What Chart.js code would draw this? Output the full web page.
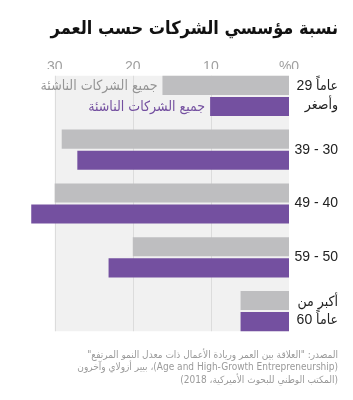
<!DOCTYPE html>
<html>
<head>
<meta charset="utf-8">
<script src="https://cdn.jsdelivr.net/npm/chart.js@4"></script>
<style>
html,body{margin:0;padding:0;background:#fff;}
#wrap{width:353px;height:400px;}
</style>
</head>
<body>
<div id="wrap"><canvas id="c" width="353" height="400"></canvas></div>
<script>
const LRM = "\u200E";
const categories = [[LRM + "29 عاماً", "وأصغر"], "39 - 30", "49 - 40", "59 - 50", ["أكبر من", LRM + "60 عاماً"]];
const allStartups = [16.2, 29.1, 30.0, 20.0, 6.2];
const highGrowth = [10.1, 27.1, 33.0, 23.1, 6.2];
const xTicks = [0, 10, 20, 30];
const seriesNames = ["جميع الشركات الناشئة", "جميع الشركات الناشئة"];
const titleText = "نسبة مؤسسي الشركات حسب العمر";
const sourceLines = [
  "المصدر: \"العلاقة بين العمر وريادة الأعمال ذات معدل النمو المرتفع\"",
  "(Age and High-Growth Entrepreneurship)، بيير أزولاي وآخرون",
  "(المكتب الوطني للبحوث الأميركية، 2018)"
];

const GRAY = '#bebec0';
const PURPLE = '#7450a0';
const FONT = "'Liberation Sans', 'DejaVu Sans Condensed', 'DejaVu Sans', sans-serif";
const CFONT = "'DejaVu Sans Condensed', 'DejaVu Sans', sans-serif";

const bgPlugin = {
  id: 'bgGrid',
  beforeDraw(chart) { chart.ctx.direction = 'ltr'; },
  beforeDatasetsDraw(chart) {
    const ctx = chart.ctx;
    const xs = chart.scales.x;
    const m0 = chart.getDatasetMeta(0).data;
    const m1 = chart.getDatasetMeta(1).data;
    const top = m0[0].y - m0[0].height / 2;
    const last = m1[m1.length - 1];
    const bottom = last.y + last.height / 2;
    const xL = xs.getPixelForValue(30), xR = xs.getPixelForValue(0);
    ctx.save();
    ctx.fillStyle = '#f1f1f1';
    ctx.fillRect(xL, top, xR - xL, bottom - top);
    ctx.strokeStyle = '#dcdcdc';
    ctx.lineWidth = 1;
    [10, 20, 30].forEach(v => {
      const px = Math.round(xs.getPixelForValue(v)) + 0.5;
      ctx.beginPath(); ctx.moveTo(px, top); ctx.lineTo(px, bottom); ctx.stroke();
    });
    ctx.restore();
  },
  afterDatasetsDraw(chart) {
    const ctx = chart.ctx;
    ctx.save();
    ctx.font = "14px " + CFONT;
    ctx.textAlign = 'right';
    ctx.textBaseline = 'middle';
    const cols = ['#959595', PURPLE];
    [0, 1].forEach(i => {
      const b = chart.getDatasetMeta(i).data[0];
      ctx.fillStyle = cols[i];
      ctx.fillText(seriesNames[i], b.x - 5, b.y + 1);
    });
    ctx.restore();
  },
  afterDraw(chart) {
    const ctx = chart.ctx;
    ctx.save();
    ctx.direction = 'rtl';
    ctx.font = "10px " + CFONT;
    ctx.fillStyle = '#9a9a9a';
    ctx.textAlign = 'right';
    ctx.textBaseline = 'middle';
    sourceLines.forEach((l, i) => ctx.fillText(l, 338, 355 + i * 12.5));
    ctx.restore();
    ctx.direction = 'ltr';
  }
};

new Chart(document.getElementById('c'), {
  type: 'bar',
  data: {
    labels: categories,
    datasets: [
      { label: seriesNames[0], data: allStartups, backgroundColor: GRAY },
      { label: seriesNames[1], data: highGrowth, backgroundColor: PURPLE }
    ]
  },
  options: {
    indexAxis: 'y',
    responsive: false,
    animation: false,
    categoryPercentage: 0.785,
    barPercentage: 0.905,
    layout: { padding: { left: 0, right: 15, top: 0, bottom: 62 } },
    plugins: {
      legend: { display: false },
      tooltip: { enabled: false },
      title: {
        display: true, text: titleText, align: 'end', color: '#111',
        font: { family: CFONT, size: 18, weight: 'bold', lineHeight: 1.2 },
        padding: { top: 19, bottom: 8 }
      }
    },
    scales: {
      x: {
        position: 'top', reverse: true, min: 0, max: 37,
        grid: { display: false, drawTicks: false },
        border: { display: false },
        afterBuildTicks(s) { s.ticks = xTicks.map(v => ({ value: v })); },
        afterFit(s) { s.height = 20.4; },
        ticks: {
          padding: 0, color: '#a0a0a0', font: { family: FONT, size: 14, lineHeight: 0.3 },
          callback: v => v === 0 ? '%0' : String(v)
        }
      },
      y: {
        position: 'right',
        grid: { display: false, drawTicks: false },
        border: { display: false },
        afterFit(s) { s.width = 49; },
        ticks: {
          padding: 6, crossAlign: 'far', color: '#222',
          font: { family: FONT, size: 14, lineHeight: 1.35 }
        }
      }
    }
  },
  plugins: [bgPlugin]
});
</script>
</body>
</html>
